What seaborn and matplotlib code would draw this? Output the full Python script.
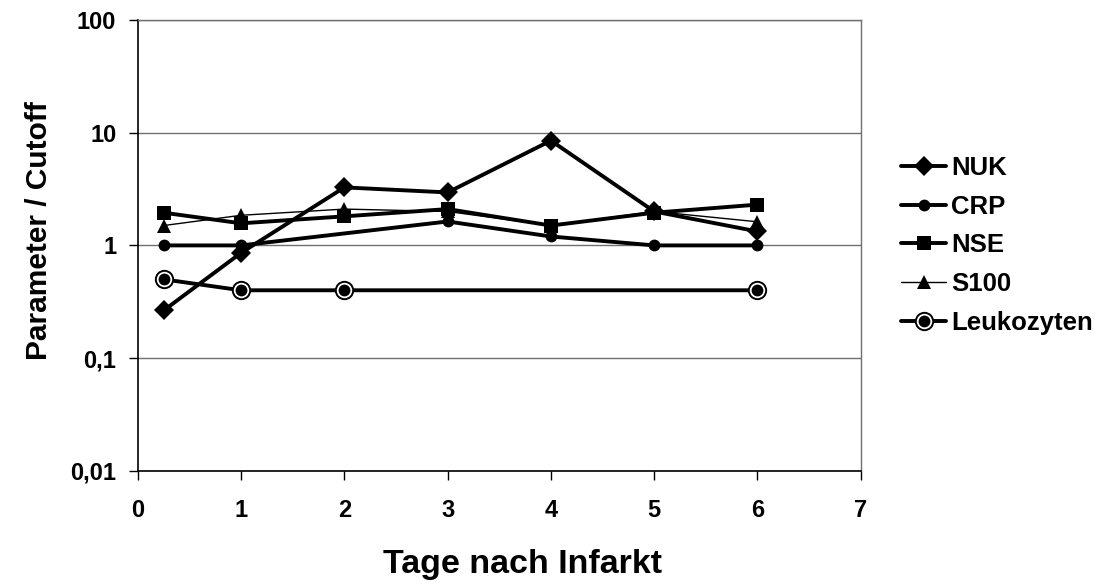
import numpy as np
import pandas as pd
import matplotlib
matplotlib.use("Agg")
import matplotlib.pyplot as plt
from matplotlib.legend_handler import HandlerTuple
import seaborn as sns

# Days after infarction for each marker series
nuk_days = [0.25, 1, 2, 3, 4, 5, 6]
nuk_vals = [0.265, 0.86, 3.27, 2.95, 8.5, 2.0, 1.33]

crp_days = [0.25, 1, 3, 4, 5, 6]
crp_vals = [1.0, 1.0, 1.63, 1.2, 1.0, 1.0]

nse_days = [0.25, 1, 2, 3, 4, 5, 6]
nse_vals = [1.95, 1.57, 1.81, 2.1, 1.5, 1.95, 2.3]

s100_days = [0.25, 1, 2, 3, 4, 5, 6]
s100_vals = [1.5, 1.85, 2.1, 2.0, 1.5, 2.0, 1.62]

leuko_days = [0.25, 1, 2, 6]
leuko_vals = [0.5, 0.4, 0.4, 0.4]

y_ticks = [0.01, 0.1, 1, 10, 100]
y_tick_labels = ["0,01", "0,1", "1", "10", "100"]
x_ticks = [0, 1, 2, 3, 4, 5, 6, 7]

sns.set_theme(style="white")
plt.rcParams["font.family"] = ["Liberation Sans", "DejaVu Sans"]
plt.rcParams["font.weight"] = "bold"
plt.rcParams["text.color"] = "black"
plt.rcParams["axes.labelcolor"] = "black"
plt.rcParams["xtick.color"] = "black"
plt.rcParams["ytick.color"] = "black"

fig = plt.figure(figsize=(11.12, 5.85), dpi=100)
ax = fig.add_axes([0.124, 0.195, 0.650, 0.771])

thick = 2.8
handles = []

sns.lineplot(x=nuk_days, y=nuk_vals, ax=ax, color="black", linewidth=thick,
             marker="D", markersize=10.5, markeredgewidth=0, sort=False,
             errorbar=None, zorder=5)
handles.append(ax.lines[-1])

sns.lineplot(x=crp_days, y=crp_vals, ax=ax, color="black", linewidth=thick,
             marker="o", markersize=8.5, markeredgewidth=0, sort=False,
             errorbar=None, zorder=4)
handles.append(ax.lines[-1])

sns.lineplot(x=nse_days, y=nse_vals, ax=ax, color="black", linewidth=thick,
             marker="s", markersize=10, markeredgewidth=0, sort=False,
             errorbar=None, zorder=4)
handles.append(ax.lines[-1])

sns.lineplot(x=s100_days, y=s100_vals, ax=ax, color="black", linewidth=1.0,
             marker="^", markersize=10.5, markeredgewidth=0, sort=False,
             errorbar=None, zorder=3)
handles.append(ax.lines[-1])

# Leukocytes: black dot inside a white ring and a black outer ring
sns.lineplot(x=leuko_days, y=leuko_vals, ax=ax, color="black", linewidth=thick,
             marker="o", markersize=12.5, markerfacecolor="white",
             markeredgecolor="black", markeredgewidth=1.4, sort=False,
             errorbar=None, zorder=4)
leuko_ring = ax.lines[-1]
ax.plot(leuko_days, leuko_vals, linestyle="none", marker="o", markersize=8.5,
        markerfacecolor="black", markeredgewidth=0, zorder=6)
leuko_dot = ax.lines[-1]
handles.append((leuko_ring, leuko_dot))

labels = ["NUK", "CRP", "NSE", "S100", "Leukozyten"]

ax.set_yscale("log")
ax.set_ylim(0.01, 100)
ax.set_xlim(0, 7)
ax.set_yticks(y_ticks)
ax.set_yticklabels(y_tick_labels)
ax.minorticks_off()
ax.set_xticks(x_ticks)
ax.set_xticklabels([str(t) for t in x_ticks])

ax.yaxis.grid(True, color="#707070", linewidth=1.0)
ax.xaxis.grid(False)
ax.set_axisbelow(True)

for side in ["left", "bottom"]:
    ax.spines[side].set_color("black")
    ax.spines[side].set_linewidth(1.2)
for side in ["top", "right"]:
    ax.spines[side].set_color("#707070")
    ax.spines[side].set_linewidth(1.0)

ax.tick_params(axis="both", which="major", direction="out", length=6.5,
               width=1.0, color="black", labelsize=17, bottom=True, left=True)
ax.tick_params(axis="x", pad=14)
ax.tick_params(axis="y", pad=9)
for lab in ax.get_xticklabels() + ax.get_yticklabels():
    lab.set_fontweight("bold")

ax.set_xlabel("Tage nach Infarkt", fontsize=24.5, fontweight="bold")
ax.xaxis.set_label_coords(0.532, -0.172)
ax.xaxis.label.set_verticalalignment("top")
ax.set_ylabel("Parameter / Cutoff", fontsize=21.5, fontweight="bold")
ax.yaxis.set_label_coords(-0.117, 0.534)

leg = ax.legend(handles, labels, loc="center left", bbox_to_anchor=(1.042, 0.5),
                frameon=False, fontsize=18.5, handlelength=1.75, handletextpad=0.2,
                labelspacing=0.58, borderaxespad=0,
                handler_map={tuple: HandlerTuple(ndivide=1)})
for t in leg.get_texts():
    t.set_fontweight("bold")

fig.savefig("out.png", dpi=100, facecolor="white")
